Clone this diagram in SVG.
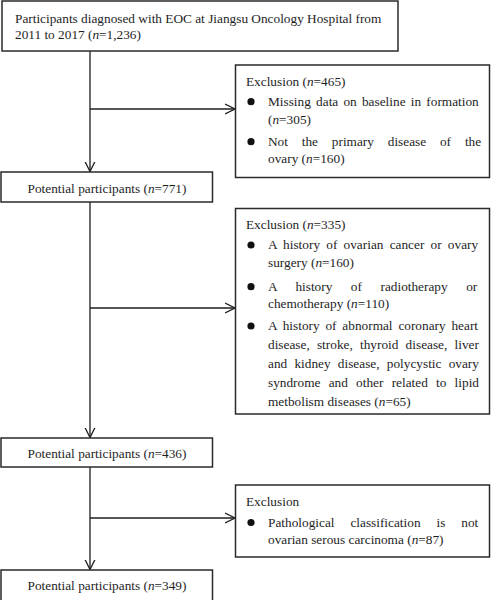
<svg xmlns="http://www.w3.org/2000/svg" width="491" height="600" viewBox="0 0 491 600">
<defs>
<style>
.box{fill:#fff;stroke:#2a2a2a;stroke-width:1.5}
.t{font-family:"Liberation Serif","Times New Roman",serif;font-size:13.3px;fill:#1e1e1e}
.c{text-anchor:middle}
.ln{stroke:#1e1e1e;stroke-width:1.3;fill:none}
.dot{fill:#111}
</style>
<marker id="ah" viewBox="0 0 10 12" refX="10" refY="6" markerWidth="10" markerHeight="12" markerUnits="userSpaceOnUse" orient="auto">
<path d="M0,1 L10,6 L0,11" fill="none" stroke="#1e1e1e" stroke-width="1.3"/>
</marker>
</defs>
<rect width="491" height="600" fill="#fff"/>
<g id="connectors">
<line class="ln" x1="90" y1="51" x2="90" y2="171.5" marker-end="url(#ah)"/>
<line class="ln" x1="90" y1="202" x2="90" y2="437.5" marker-end="url(#ah)"/>
<line class="ln" x1="90" y1="467" x2="90" y2="569.5" marker-end="url(#ah)"/>
<line class="ln" x1="90" y1="109" x2="235" y2="109" marker-end="url(#ah)"/>
<line class="ln" x1="90" y1="308" x2="235" y2="308" marker-end="url(#ah)"/>
<line class="ln" x1="90" y1="518" x2="235" y2="518" marker-end="url(#ah)"/>
</g>
<g id="start">
<rect class="box" x="2" y="1" width="396" height="50"/>
<text class="t" x="15" y="23">Participants diagnosed with EOC at Jiangsu Oncology Hospital from</text>
<text class="t" x="15" y="39">2011 to 2017 (<tspan font-style="italic">n</tspan>=1,236)</text>
</g>
<g id="excl1">
<rect class="box" x="235.5" y="65" width="254" height="112.5"/>
<text class="t" x="246" y="86">Exclusion (<tspan font-style="italic">n</tspan>=465)</text>
<circle class="dot" cx="251" cy="101.7" r="3.6"/>
<text class="t" x="268" y="105.7" style="word-spacing:1.9px">Missing data on baseline in formation</text>
<text class="t" x="268" y="123.5">(<tspan font-style="italic">n</tspan>=305)</text>
<circle class="dot" cx="251" cy="141.7" r="3.6"/>
<text class="t" x="268" y="145.5" style="word-spacing:10.5px">Not the primary disease of the</text>
<text class="t" x="268" y="162.5">ovary (<tspan font-style="italic">n</tspan>=160)</text>
</g>
<g id="p771">
<rect class="box" x="1" y="172" width="211.5" height="30"/>
<text class="t c" x="107" y="192.5">Potential participants (<tspan font-style="italic">n</tspan>=771)</text>
</g>
<g id="excl2">
<rect class="box" x="235.5" y="208.5" width="254" height="205.5"/>
<text class="t" x="246" y="229">Exclusion (<tspan font-style="italic">n</tspan>=335)</text>
<circle class="dot" cx="251" cy="245" r="3.6"/>
<text class="t" x="268" y="249" style="word-spacing:2.9px">A history of ovarian cancer or ovary</text>
<text class="t" x="268" y="267">surgery (<tspan font-style="italic">n</tspan>=160)</text>
<circle class="dot" cx="251" cy="286.7" r="3.6"/>
<text class="t" x="268" y="290.5" style="word-spacing:15.2px">A history of radiotherapy or</text>
<text class="t" x="268" y="307.5">chemotherapy (<tspan font-style="italic">n</tspan>=110)</text>
<circle class="dot" cx="251" cy="326" r="3.6"/>
<text class="t" x="268" y="330" style="word-spacing:2.5px">A history of abnormal coronary heart</text>
<text class="t" x="268" y="349" style="word-spacing:3.9px">disease, stroke, thyroid disease, liver</text>
<text class="t" x="268" y="368" style="word-spacing:3.9px">and kidney disease, polycystic ovary</text>
<text class="t" x="268" y="387" style="word-spacing:4.9px">syndrome and other related to lipid</text>
<text class="t" x="268" y="406">metbolism diseases (<tspan font-style="italic">n</tspan>=65)</text>
</g>
<g id="p436">
<rect class="box" x="1" y="438" width="211.5" height="29"/>
<text class="t c" x="107" y="458">Potential participants (<tspan font-style="italic">n</tspan>=436)</text>
</g>
<g id="excl3">
<rect class="box" x="235.5" y="485" width="254" height="72"/>
<text class="t" x="246" y="505.7">Exclusion</text>
<circle class="dot" cx="251" cy="522.5" r="3.6"/>
<text class="t" x="268" y="526.5" style="word-spacing:12.6px">Pathological classification is not</text>
<text class="t" x="268" y="544">ovarian serous carcinoma (<tspan font-style="italic">n</tspan>=87)</text>
</g>
<g id="p349">
<rect class="box" x="1" y="570" width="211.5" height="32"/>
<text class="t c" x="107" y="590">Potential participants (<tspan font-style="italic">n</tspan>=349)</text>
</g>
</svg>
